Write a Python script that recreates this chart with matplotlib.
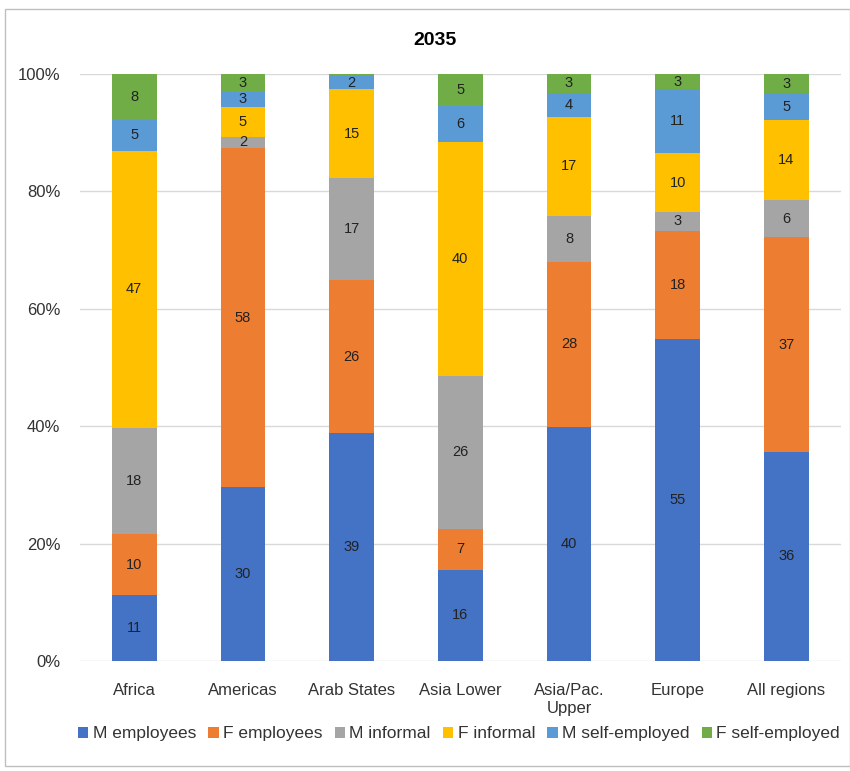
import matplotlib.pyplot as plt
from matplotlib.patches import Rectangle
import numpy as np

regions = ['Africa', 'Americas', 'Arab States', 'Asia Lower', 'Asia/Pac.\nUpper', 'Europe', 'All regions']
series = ['M employees', 'F employees', 'M informal', 'F informal', 'M self-employed', 'F self-employed']
colors = ['#4472C4', '#ED7D31', '#A5A5A5', '#FFC000', '#5B9BD5', '#70AD47']

# shares in percent
m_emp = [11.2, 29.6, 38.8, 15.5, 39.9, 54.9, 35.6]
f_emp = [10.4, 57.8, 26.1, 7.0, 28.1, 18.4, 36.6]
m_inf = [18.1, 1.9, 17.4, 26.1, 7.8, 3.2, 6.3]
f_inf = [47.2, 5.1, 15.1, 39.8, 16.9, 10.0, 13.6]
m_self = [5.4, 2.6, 2.3, 6.2, 4.1, 10.9, 4.6]
f_self = [7.7, 3.0, 0.3, 5.4, 3.2, 2.6, 3.3]

data = np.array([m_emp, f_emp, m_inf, f_inf, m_self, f_self])
shares = data / data.sum(axis=0)

plt.rcParams['font.family'] = ['Liberation Sans', 'DejaVu Sans']

fig = plt.figure(figsize=(8.5, 7.71), dpi=100)
ax = fig.add_axes([0.094, 0.1427, 0.895, 0.7613])

x = np.arange(len(regions))
bottom = np.zeros(len(regions))
for i, name in enumerate(series):
    ax.bar(x, shares[i], 0.41, bottom=bottom, color=colors[i], label=name, zorder=3)
    for j in range(len(regions)):
        if data[i, j] >= 1:
            ax.text(x[j], bottom[j] + shares[i, j] / 2, f'{data[i, j]:.0f}',
                    ha='center', va='center', fontsize=10.5, color='#222222', zorder=4)
    bottom += shares[i]

ax.set_xlim(-0.5, len(regions) - 0.5)
ax.set_ylim(0, 1)
ax.set_yticks(np.arange(0, 1.01, 0.2))
ax.set_yticklabels([f'{int(v * 100)}%' for v in np.arange(0, 1.01, 0.2)])
ax.set_xticks(x)
ax.set_xticklabels(regions)
ax.tick_params(length=0, labelsize=12, colors='#333333', pad=16)
ax.tick_params(axis='y', pad=14)
ax.grid(axis='y', color='#d9d9d9', linewidth=1, zorder=0)
for s in ax.spines.values():
    s.set_visible(False)

fig.text(0.512, 0.948, '2035', ha='center', va='center', fontsize=14, fontweight='bold')

fig.legend(loc='center', bbox_to_anchor=(0.54, 0.048), ncol=6, frameon=False,
           fontsize=12.5, handlelength=0.6, handleheight=0.6, handletextpad=0.25,
           columnspacing=0.7, labelcolor='#333333')

fig.patches.append(Rectangle((5 / 850, 1 - 766 / 771), 845 / 850, 757 / 771,
                             transform=fig.transFigure, fill=False,
                             edgecolor='#bfbfbf', linewidth=1))

fig.savefig('out.png', dpi=100)
